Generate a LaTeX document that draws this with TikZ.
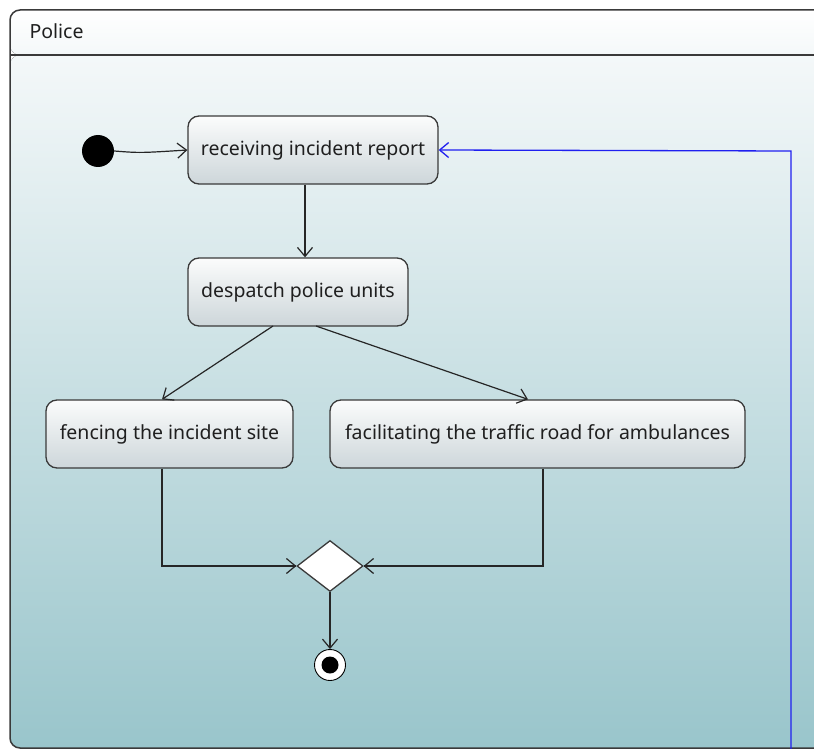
\documentclass[tikz,border=0pt]{standalone}
\usepackage{fontspec}
\setmainfont{Noto Sans}
\usetikzlibrary{arrows.meta,shapes.geometric}
\definecolor{edge}{HTML}{3A3A3A}
\definecolor{bodytop}{HTML}{F4F8F9}
\definecolor{bodybot}{HTML}{99C5CB}
\definecolor{acttop}{HTML}{FBFCFC}
\definecolor{actbot}{HTML}{CDD6DA}
\definecolor{flowblue}{HTML}{2020F0}
\tikzset{
  label font/.style={font=\fontsize{19.5}{22}\selectfont, text=black!88},
  action/.style={draw=edge, line width=1.3pt, rounded corners=11pt,
    top color=acttop, bottom color=actbot, minimum height=68pt,
    label font, inner sep=0pt},
  flow/.style={draw=black!85, line width=1.2pt,
    -{Straight Barb[length=9pt,width=15pt,line width=1.2pt]}},
  line/.style={draw=black!85, line width=1.2pt},
}
\begin{document}
\begin{tikzpicture}[x=1pt,y=-1pt]
\useasboundingbox (0,0) rectangle (814,749);
% swimlane frame: body gradient and header
\fill[top color=bodytop, bottom color=bodybot, rounded corners=10pt]
  (10,55) rectangle (830,748);
\fill[top color=white, bottom color=bodytop, rounded corners=10pt]
  (10,10) rectangle (830,55);
\draw[edge, line width=1.5pt, rounded corners=10pt]
  (830,748) -- (10,748) -- (10,10) -- (830,10);
\draw[edge, line width=1.5pt] (10,55) -- (830,55);
\node[anchor=west, label font] (lane) at (26,31) {Police};

% nodes
\node[circle, fill=black, minimum size=32pt, inner sep=0pt] (start) at (98,151) {};
\node[action, minimum width=250pt] (receive) at (313,150) {receiving incident report};
\node[action, minimum width=220pt] (despatch) at (298,292) {despatch police units};
\node[action, minimum width=247pt] (fence) at (169.5,434) {fencing the incident site};
\node[action, minimum width=415pt] (traffic) at (537.5,434) {facilitating the traffic road for ambulances};
\node[diamond, draw=edge, line width=1.3pt, fill=white, aspect=1.3,
      minimum width=66pt, minimum height=51pt, inner sep=0pt] (merge) at (330,566) {};
\node[circle, draw=black, line width=0.9pt, fill=white, minimum size=31pt, inner sep=0pt] (final) at (330,665) {};
\node[circle, fill=black, minimum size=17pt, inner sep=0pt] (finaldot) at (final.center) {};
\coordinate (corner) at (791,151);
\coordinate (laneend) at (791,760);

% connectors
\draw[flow] (start.east) .. controls (140,153) .. (receive.west);
\draw[flow] (receive.south -| 305,0) -- (despatch.north -| 305,0);
\draw[flow] (273,326) -- (fence.north -| 162,0);
\draw[flow] (316,326) -- (traffic.north -| 528,0);
\draw[line] (fence.south -| 162,0) |- (merge.west);
\draw[flow] (merge.west -| 200,0) -- (merge.west);
\draw[line] (traffic.south -| 543,0) |- (merge.east);
\draw[flow] (merge.east -| 460,0) -- (merge.east);
\draw[flow] (merge.south) -- (final.north);
\draw[flowblue, line width=1.3pt, -{Straight Barb[length=9pt,width=15pt,line width=1.3pt]}]
  (laneend) -- (corner) -- (receive.east);
\end{tikzpicture}
\end{document}
